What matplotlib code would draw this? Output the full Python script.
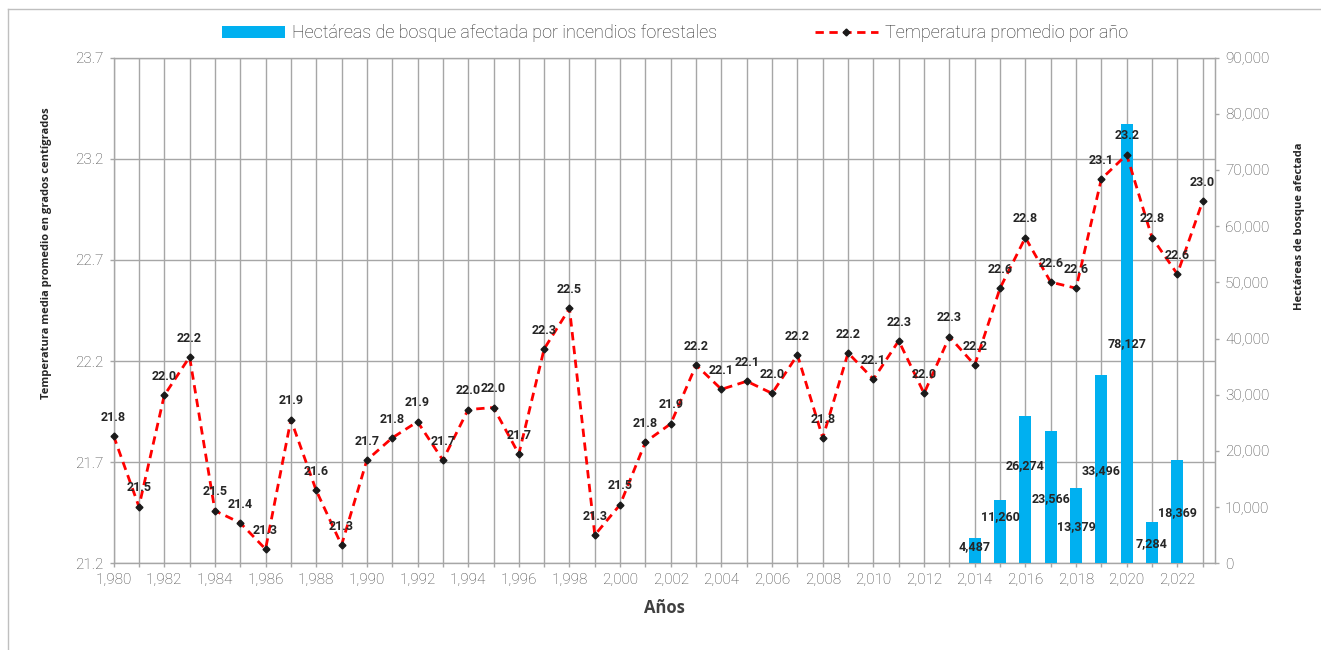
'''Temperatura promedio anual y hectareas de bosque afectadas por incendios'''

import matplotlib
matplotlib.use("Agg")
import matplotlib.pyplot as plt
from matplotlib.lines import Line2D
from matplotlib.patches import Patch
from matplotlib.ticker import FuncFormatter

# data
years = list(range(1980, 2024))
temp = [21.83, 21.48, 22.03, 22.22, 21.46, 21.40, 21.27, 21.91, 21.56, 21.29,
        21.71, 21.82, 21.90, 21.71, 21.96, 21.97, 21.74, 22.26, 22.46, 21.34,
        21.49, 21.80, 21.89, 22.18, 22.06, 22.10, 22.04, 22.23, 21.82, 22.24,
        22.11, 22.30, 22.04, 22.32, 22.18, 22.56, 22.81, 22.59, 22.56, 23.10,
        23.22, 22.81, 22.63, 22.99]

fire_years = [2014, 2015, 2016, 2017, 2018, 2019, 2020, 2021, 2022]
fire_ha = [4487, 11260, 26274, 23566, 13379, 33496, 78127, 7284, 18369]

temp_ticks = [21.2, 21.7, 22.2, 22.7, 23.2, 23.7]
ha_ticks = list(range(0, 90001, 10000))

# where each bar label sits, as a share of the bar height
bar_label_frac = [0.66, 0.74, 0.66, 0.49, 0.49, 0.49, 0.50, 0.49, 0.49]

narrow = ['Roboto', 'DejaVu Sans']
bold_font = ['Open Sans', 'DejaVu Sans']
grid_col = '#A6A6A6'
tick_col = '#404040'
blue = '#00B0F0'

fig = plt.figure(figsize=(13.21, 6.5), dpi=100)
ax = fig.add_axes([0.086, 0.1334, 0.834, 0.778])
ax_bar = ax.twinx()
ax_line = ax.twinx()

# temperature axis: grid + left ticks
ax.set_xlim(1980, 2023.5)
ax.set_ylim(21.2, 23.7)
ax.set_xticks(years)
ax.set_xticklabels(['{:,}'.format(y) if y % 2 == 0 else '' for y in years],
                   family=narrow, fontweight='light', fontsize=11,
                   color=tick_col)
ax.set_yticks(temp_ticks)
ax.set_yticklabels(['{:.1f}'.format(t) for t in temp_ticks],
                   family=narrow, fontweight='light', fontsize=11,
                   color=tick_col)
ax.grid(True, color=grid_col, linewidth=1.0)
ax.tick_params(axis='both', colors=grid_col, length=3, width=1.0, pad=4,
               labelcolor=tick_col)
for s in ax.spines.values():
    s.set_color(grid_col)
    s.set_linewidth(1.0)

# bars on the right axis
ax_bar.bar(fire_years, fire_ha, width=0.47, color=blue, zorder=2)
ax_bar.set_ylim(0, 90000)
ax_bar.set_yticks(ha_ticks)
ax_bar.yaxis.set_major_formatter(FuncFormatter(lambda v, p: '{:,}'.format(int(v))))
for lab in ax_bar.get_yticklabels():
    lab.set_family(narrow)
    lab.set_fontweight('light')
ax_bar.tick_params(axis='y', colors=grid_col, length=3, width=1.0, pad=4,
                   labelsize=11, labelcolor=tick_col)
for s in ax_bar.spines.values():
    s.set_visible(False)
ax_bar.spines['right'].set_visible(True)
ax_bar.spines['right'].set_color(grid_col)
for x, v, f in zip(fire_years, fire_ha, bar_label_frac):
    ax_bar.text(x, v * f, '{:,}'.format(v), ha='center', va='center',
                family=narrow, fontweight='bold', fontsize=9, color='#262626')

# temperature line on top of the bars
ax_line.set_ylim(21.2, 23.7)
ax_line.set_xlim(1980, 2023.5)
ax_line.axis('off')
ax_line.plot(years, temp, color='#FF0000', linestyle=(0, (3, 2)), linewidth=2,
             marker='D', markersize=3.5, markerfacecolor='#1a1a1a',
             markeredgecolor='#1a1a1a', clip_on=False)
for x, t in zip(years, temp):
    ax_line.annotate('{:.1f}'.format(t), (x, t), xytext=(0, 13.5),
                     textcoords='offset points', ha='center', va='center',
                     family=narrow, fontweight='bold', fontsize=9,
                     color='#262626')

# axis titles
fig.text(0.035, 0.611, 'Temperatura media promedio en grados centígrados',
         rotation=90, ha='center', va='center', family=bold_font,
         fontweight='bold', fontsize=8, color='#262626')
fig.text(0.984, 0.652, 'Hectáreas de bosque afectada', rotation=90,
         ha='center', va='center', family=bold_font, fontweight='bold',
         fontsize=8, color='#262626')
fig.text(0.503, 0.064, 'Años', ha='center', va='center', family=bold_font,
         fontweight='bold', fontsize=12, color='#404040')

# legend
handles = [Patch(facecolor=blue, edgecolor='none'),
           Line2D([], [], color='#FF0000', linestyle=(0, (3, 2)), linewidth=2,
                  marker='D', markersize=3.5, markerfacecolor='#1a1a1a',
                  markeredgecolor='#1a1a1a')]
labels = ['Hectáreas de bosque afectada por incendios forestales',
          'Temperatura promedio por año']
fig.legend(handles, labels, loc='center', bbox_to_anchor=(0.511, 0.949),
           ncol=2, frameon=False, handlelength=3.5, handleheight=0.65,
           handletextpad=0.4, columnspacing=5.4,
           prop={'family': narrow, 'size': 13, 'weight': 'light'},
           labelcolor='#262626')

# chart border
fig.add_artist(Line2D([8 / 1321, 8 / 1321], [0, 1 - 9 / 650],
                      transform=fig.transFigure, color='#BFBFBF', linewidth=1))
fig.add_artist(Line2D([8 / 1321, 1], [1 - 9 / 650, 1 - 9 / 650],
                      transform=fig.transFigure, color='#BFBFBF', linewidth=1))

fig.savefig('out.png', dpi=100)
